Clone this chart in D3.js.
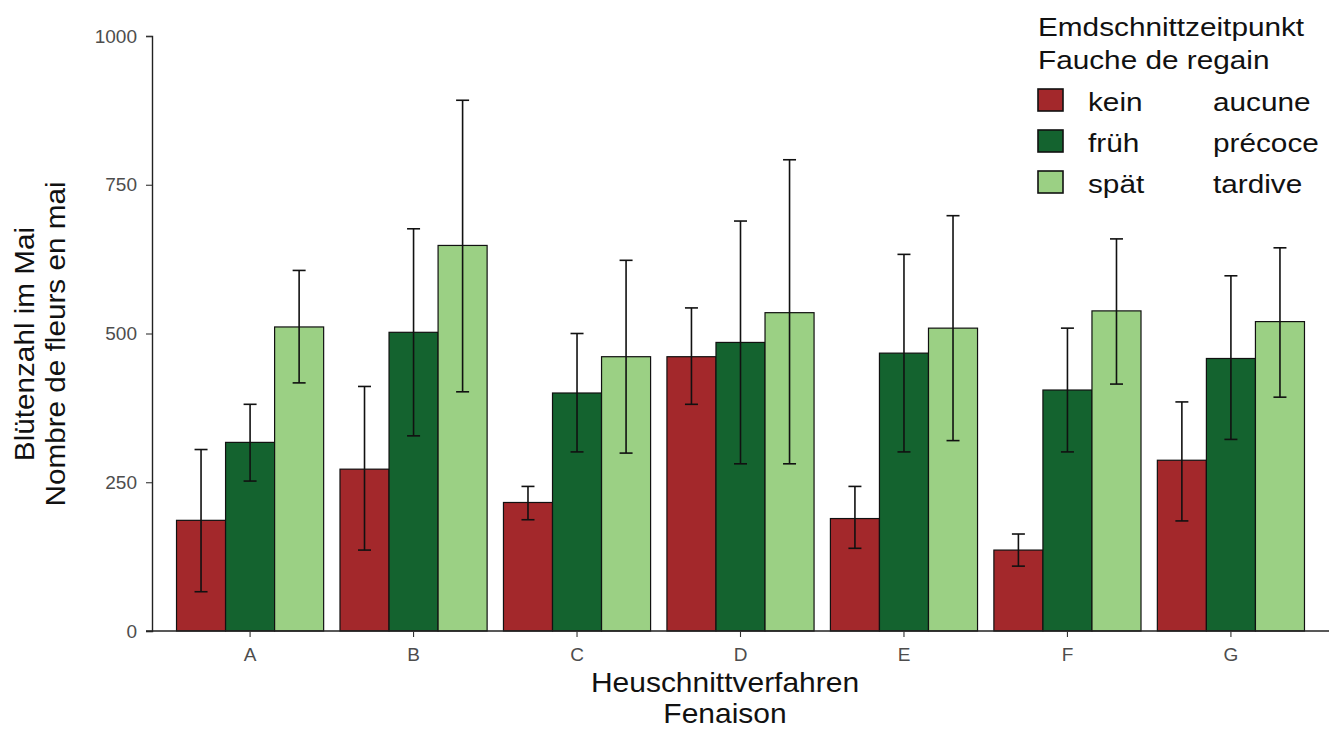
<!DOCTYPE html>
<html>
<head>
<meta charset="utf-8">
<script src="https://cdn.jsdelivr.net/npm/d3@7"></script>
<style>
  body { margin: 0; background: #fff; }
  text { font-family: "Liberation Sans", Arial, sans-serif; }
</style>
</head>
<body>
<div id="chart"></div>
<script>
// data
var categories = ['A', 'B', 'C', 'D', 'E', 'F', 'G'];
var seriesDe = ['kein', 'früh', 'spät'];
var seriesFr = ['aucune', 'précoce', 'tardive'];
var seriesColors = ['#a3282b', '#14632f', '#9bd084'];
var yTicks = [0, 250, 500, 750, 1000];

var meanKein  = [186, 272, 216, 461, 189, 136, 287];
var lowKein   = [66, 136, 187, 381, 139, 109, 185];
var highKein  = [305, 411, 243, 543, 243, 163, 385];

var meanFrueh = [317, 502, 400, 485, 467, 405, 458];
var lowFrueh  = [252, 328, 301, 281, 301, 301, 322];
var highFrueh = [381, 676, 500, 689, 633, 509, 597];

var meanSpaet = [511, 648, 461, 535, 509, 538, 520];
var lowSpaet  = [417, 402, 299, 281, 320, 415, 393];
var highSpaet = [606, 892, 623, 792, 698, 659, 644];

var means = [meanKein, meanFrueh, meanSpaet];
var lows = [lowKein, lowFrueh, lowSpaet];
var highs = [highKein, highFrueh, highSpaet];

var width = 1329, height = 732;
var plotLeft = 152, plotRight = 1329, plotTop = 36, plotBottom = 631;

var rows = [];
categories.forEach(function(c, i) {
  seriesDe.forEach(function(s, j) {
    rows.push({cat: c, s: j, mean: means[j][i], lo: lows[j][i], hi: highs[j][i]});
  });
});

var svg = d3.select('#chart')
  .append('svg')
  .attr('width', width)
  .attr('height', height);

// the original text is a bit wider than Liberation Sans, so stretch it
function label(parent, str, x, y, size, sx, anchor, rot) {
  var g = parent.append('g')
    .attr('transform', 'translate(' + x + ',' + y + ')' + (rot ? 'rotate(' + rot + ')' : '') + 'scale(' + sx + ',1)');
  return g.append('text')
    .attr('text-anchor', anchor || 'start')
    .style('font-size', size + 'px')
    .attr('fill', '#111')
    .text(str);
}

var x = d3.scaleBand()
  .domain(categories)
  .range([plotLeft, plotRight])
  .paddingInner(0.1)
  .paddingOuter(0.15);

var xSub = d3.scaleBand()
  .domain(d3.range(seriesDe.length))
  .range([0, x.bandwidth()]);

var y = d3.scaleLinear()
  .domain([0, 1000])
  .range([plotBottom, plotTop]);

// bars
svg.append('g')
  .selectAll('rect')
  .data(rows)
  .join('rect')
  .attr('x', function(d) { return x(d.cat) + xSub(d.s); })
  .attr('y', function(d) { return y(d.mean); })
  .attr('width', xSub.bandwidth())
  .attr('height', function(d) { return y(0) - y(d.mean); })
  .attr('fill', function(d) { return seriesColors[d.s]; })
  .attr('stroke', '#111')
  .attr('stroke-width', 1.2);

// error bars
var capHalf = 6.5;
var err = svg.append('g')
  .attr('stroke', '#111')
  .attr('stroke-width', 1.6)
  .selectAll('g')
  .data(rows)
  .join('g')
  .attr('transform', function(d) {
    return 'translate(' + (x(d.cat) + xSub(d.s) + xSub.bandwidth() / 2) + ',0)';
  });

err.append('line')
  .attr('y1', function(d) { return y(d.lo); })
  .attr('y2', function(d) { return y(d.hi); });
err.append('line')
  .attr('x1', -capHalf).attr('x2', capHalf)
  .attr('y1', function(d) { return y(d.hi); })
  .attr('y2', function(d) { return y(d.hi); });
err.append('line')
  .attr('x1', -capHalf).attr('x2', capHalf)
  .attr('y1', function(d) { return y(d.lo); })
  .attr('y2', function(d) { return y(d.lo); });

// axes
var yAxis = svg.append('g')
  .attr('transform', 'translate(' + plotLeft + ',0)')
  .call(d3.axisLeft(y).tickValues(yTicks).tickFormat(d3.format('d')).tickSize(6).tickPadding(9));

var xAxis = svg.append('g')
  .attr('transform', 'translate(0,' + plotBottom + ')')
  .call(d3.axisBottom(x).tickSize(6).tickPadding(11));

[yAxis, xAxis].forEach(function(a) {
  a.attr('font-size', null).attr('font-family', null);
  a.select('.domain').attr('stroke', '#222').attr('stroke-width', 1.4);
  a.selectAll('.tick line').attr('stroke', '#333').attr('stroke-width', 1.1);
  a.selectAll('.tick text')
    .attr('fill', '#4d4d4d')
    .style('font-size', '19px');
});
xAxis.select('.domain').attr('d', 'M' + (plotLeft - 6) + ',0H' + plotRight);

// axis titles
var yMid = 344;
label(svg, 'Blütenzahl im Mai', 34, yMid, 27, 1.1, 'middle', -90);
label(svg, 'Nombre de fleurs en mai', 65, yMid, 27, 1.1, 'middle', -90);

label(svg, 'Heuschnittverfahren', 725, 692, 27, 1.11, 'middle');
label(svg, 'Fenaison', 725, 723, 27, 1.11, 'middle');

// legend
var legend = svg.append('g')
  .attr('transform', 'translate(1038,0)');

label(legend, 'Emdschnittzeitpunkt', 0, 36, 25, 1.19);
label(legend, 'Fauche de regain', 0, 69, 25, 1.19);

var item = legend.selectAll('.item')
  .data(seriesDe)
  .join('g')
  .attr('class', 'item')
  .attr('transform', function(d, i) { return 'translate(0,' + (100 + i * 41) + ')'; });

item.append('rect')
  .attr('x', 0).attr('y', -11)
  .attr('width', 25).attr('height', 22)
  .attr('fill', function(d, i) { return seriesColors[i]; })
  .attr('stroke', '#111')
  .attr('stroke-width', 1.6);

item.each(function(d, i) {
  var row = d3.select(this);
  label(row, d, 50, 11, 25, 1.19);
  label(row, seriesFr[i], 175, 11, 25, 1.19);
});
</script>
</body>
</html>
